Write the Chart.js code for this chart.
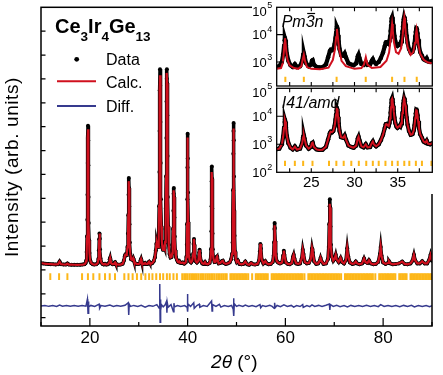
<!DOCTYPE html>
<html>
<head>
<meta charset="utf-8">
<script src="https://cdn.jsdelivr.net/npm/chart.js@4/dist/chart.umd.min.js"></script>
<style>
  body { margin: 0; background: #fff; }
  #wrap { position: relative; width: 443px; height: 375px; overflow: hidden; }
  canvas { position: absolute; }
  #cover { position: absolute; left: 252px; top: 0; width: 191px; height: 194px; background: #fff; }
</style>
</head>
<body>
<div id="wrap">
  <canvas id="main" width="443" height="375" style="left:0;top:0"></canvas>
  <div id="cover"></div>
  <canvas id="inset1" width="193" height="92" style="left:250px;top:0"></canvas>
  <canvas id="inset2" width="193" height="115" style="left:250px;top:80px"></canvas>
</div>
<script>
// measured pattern, [2theta, counts]
const obs = [
  [10.0, 950], [10.5, 880], [11.0, 820], [11.5, 770], [12.0, 730], [12.5, 700], [13.0, 690], [13.5, 740],
  [13.8, 1300], [14.1, 730], [14.6, 660], [15.1, 650], [15.4, 880], [15.7, 640], [16.2, 620], [16.8, 610],
  [17.4, 600], [18.0, 610], [18.5, 640], [18.9, 720], [19.1, 950], [19.25, 1500],
  [19.35, 3400], [19.43, 6800], [19.48, 10500], [19.52, 16000], [19.56, 23000], [19.59, 28500], [19.62, 31200],
  [19.65, 28000], [19.68, 22500], [19.72, 15500], [19.77, 9800], [19.83, 6000], [19.92, 3200], [20.05, 1600],
  [20.3, 950], [20.6, 720], [20.9, 660], [21.3, 700], [21.6, 1000], [21.75, 1900], [21.85, 3800], [21.92, 6200],
  [21.96, 7500], [22.0, 6400], [22.07, 4000], [22.17, 2000], [22.35, 1100], [22.6, 760], [22.85, 660], [23.1, 830],
  [23.35, 650], [23.7, 700], [23.95, 1100], [24.06, 1800], [24.14, 2100], [24.22, 1600], [24.4, 900], [24.7, 700],
  [24.95, 800], [25.08, 1100], [25.16, 1150], [25.3, 800], [25.6, 660], [25.9, 630], [26.3, 640], [26.7, 820],
  [26.95, 1500], [27.15, 2500], [27.25, 2800], [27.4, 2700], [27.55, 3000], [27.7, 4500], [27.8, 7500],
  [27.87, 11500], [27.92, 16000], [27.97, 19700], [28.01, 17500], [28.05, 13500], [28.1, 9500], [28.17, 5500],
  [28.27, 3000], [28.45, 1800], [28.7, 1700], [28.86, 2050], [29.0, 1500], [29.3, 900], [29.63, 800], [29.9, 760],
  [30.2, 900], [30.38, 1600], [30.47, 1860], [30.57, 1400], [30.8, 850], [31.05, 780], [31.3, 1000], [31.5, 780],
  [31.8, 800], [32.0, 1100], [32.12, 1260], [32.25, 1000], [32.5, 850], [32.8, 1000], [33.05, 1400], [33.3, 2200],
  [33.5, 3800], [33.62, 5200], [33.72, 5300], [33.82, 4800], [33.95, 4500], [34.05, 5800], [34.12, 8500],
  [34.18, 13500], [34.23, 21000], [34.27, 30000], [34.31, 39000], [34.35, 43600], [34.39, 40000], [34.43, 32000],
  [34.48, 23000], [34.54, 15000], [34.62, 9000], [34.72, 5800], [34.85, 4300], [34.97, 3900], [35.08, 4200],
  [35.2, 4600], [35.3, 4300], [35.4, 5600], [35.48, 8500], [35.55, 13000], [35.61, 20000], [35.66, 28500],
  [35.7, 36500], [35.73, 41500], [35.76, 43600], [35.8, 40500], [35.84, 33500], [35.89, 24500], [35.95, 15500],
  [36.03, 9000], [36.14, 5000], [36.3, 3000], [36.5, 2200], [36.7, 2300], [36.85, 3100], [36.95, 4800],
  [37.03, 8500], [37.09, 12500], [37.14, 16200], [37.18, 17500], [37.23, 15500], [37.29, 11000], [37.36, 6800],
  [37.46, 3800], [37.6, 2300], [37.8, 1700], [38.0, 1250], [38.2, 1150], [38.35, 1350], [38.5, 1050], [38.75, 1000],
  [39.0, 1100], [39.3, 850], [39.6, 1100], [39.75, 2300], [39.84, 5000], [39.9, 9500], [39.94, 15000], [39.97, 22000],
  [40.0, 29400], [40.03, 24000], [40.07, 16500], [40.12, 10000], [40.18, 5500], [40.28, 2800], [40.45, 1400],
  [40.7, 1100], [40.95, 1500], [41.15, 3000], [41.23, 5200], [41.3, 6300], [41.37, 5000], [41.47, 2600],
  [41.65, 1400], [41.9, 1100], [42.2, 1500], [42.38, 3300], [42.45, 3900], [42.52, 3200], [42.7, 1500],
  [43.0, 900], [43.3, 800], [43.55, 1200], [43.75, 800], [44.1, 720], [44.5, 1000], [44.7, 1800], [44.8, 4000],
  [44.86, 8000], [44.9, 13500], [44.93, 19000], [44.96, 22200], [44.99, 19500], [45.03, 13000], [45.08, 7500],
  [45.15, 4000], [45.28, 2000], [45.5, 1200], [45.75, 1300], [45.95, 2300], [46.02, 2400], [46.1, 1800],
  [46.35, 900], [46.7, 1000], [47.0, 1400], [47.2, 1500], [47.4, 1000], [47.8, 800], [48.2, 900], [48.6, 1100],
  [48.9, 1800], [49.1, 3000], [49.2, 5500], [49.26, 10000], [49.31, 17000], [49.35, 25000], [49.38, 30000],
  [49.41, 31800], [49.44, 28000], [49.48, 20000], [49.53, 12500], [49.6, 7000], [49.7, 3500], [49.85, 1800],
  [50.05, 1200], [50.3, 1500], [50.6, 800], [51.0, 700], [51.4, 800], [51.8, 1300], [52.2, 700], [52.6, 600],
  [53.0, 1000], [53.4, 700], [53.8, 650], [54.3, 800], [54.6, 1500], [54.78, 3500], [54.88, 5200], [54.98, 4200],
  [55.15, 1800], [55.5, 900], [55.9, 1400], [56.2, 900], [56.6, 700], [57.0, 800], [57.4, 1200], [57.6, 2600],
  [57.7, 5500], [57.76, 8500], [57.8, 9800], [57.85, 8700], [57.92, 5800], [58.02, 3000], [58.2, 1500],
  [58.5, 1100], [58.9, 900], [59.3, 1100], [59.55, 2600], [59.68, 3700], [59.8, 2800], [60.1, 1100], [60.5, 800],
  [60.9, 700], [61.3, 1000], [61.55, 2300], [61.7, 2800], [61.85, 2000], [62.2, 900], [62.6, 800], [63.0, 900],
  [63.35, 2000], [63.55, 3900], [63.7, 3000], [64.0, 1200], [64.4, 900], [64.8, 1000], [65.2, 1800], [65.45, 4200],
  [65.6, 3300], [65.9, 1300], [66.3, 800], [66.7, 900], [67.05, 1500], [67.2, 2100], [67.4, 1400], [67.8, 800],
  [68.3, 900], [68.7, 1800], [68.88, 4500], [68.98, 9500], [69.05, 13500], [69.1, 15000], [69.15, 13200],
  [69.22, 9000], [69.32, 5000], [69.5, 2500], [69.8, 1500], [70.1, 2000], [70.3, 2800], [70.5, 1800], [70.9, 1200],
  [71.3, 2100], [71.6, 1200], [72.0, 900], [72.4, 1600], [72.65, 4250], [72.85, 2500], [73.2, 1100], [73.7, 800],
  [74.1, 900], [74.4, 1300], [74.7, 900], [75.2, 700], [75.7, 900], [76.1, 2000], [76.4, 1200], [76.8, 1000],
  [77.1, 1600], [77.5, 900], [78.0, 700], [78.5, 800], [79.0, 1200], [79.35, 3000], [79.5, 4500], [79.68, 2600],
  [80.0, 1100], [80.5, 800], [81.0, 1000], [81.2, 1400], [81.5, 900], [82.0, 700], [82.6, 800], [83.2, 900],
  [83.9, 1300], [84.4, 800], [85.0, 700], [85.6, 900], [86.0, 1500], [86.3, 2800], [86.55, 1600], [87.0, 900],
  [87.5, 900], [88.0, 1400], [88.5, 900], [89.0, 900], [89.4, 1600], [89.7, 2800], [90.0, 1500]
];

// I41/amd fit: where calc sits below the measured peak tops
const calcFix = [
  [19.62, 30400], [27.97, 19000], [34.35, 42300], [35.76, 42800], [37.18, 17000],
  [40.0, 28600], [44.96, 21000], [49.41, 30600], [57.8, 9300], [69.1, 14000]
];

// Pm-3n fit, inset only
const pm3nCalc = [
  [21.0, 560], [21.5, 600], [21.7, 900], [21.82, 2200], [21.9, 4800], [21.96, 7400], [22.02, 5200], [22.1, 2600],
  [22.25, 1200], [22.5, 750], [23.0, 600], [23.5, 560], [23.85, 700], [24.0, 1200], [24.14, 1860], [24.27, 1100],
  [24.5, 650], [25.0, 560], [26.0, 540], [27.0, 620], [27.5, 1200], [27.75, 3000], [27.87, 8000], [27.97, 16200],
  [28.07, 8500], [28.2, 3200], [28.5, 1100], [29.0, 700], [30.0, 560], [30.8, 600], [31.1, 800], [31.31, 1500],
  [31.5, 800], [32.0, 600], [33.0, 650], [33.7, 1100], [34.0, 2200], [34.15, 5500], [34.27, 14000], [34.35, 24500],
  [34.43, 14000], [34.55, 5500], [34.8, 2300], [35.1, 2000], [35.4, 3200], [35.58, 10000], [35.68, 26000],
  [35.76, 41700], [35.84, 26000], [35.94, 10000], [36.15, 3500], [36.5, 1800], [36.8, 2300], [37.0, 5000],
  [37.1, 10000], [37.18, 15100], [37.26, 10000], [37.38, 4500], [37.6, 2000], [38.0, 1200], [38.5, 950], [39.0, 900]
];

// obs - calc residual
const diffRes = [
  [10.0, 0], [10.8, 120], [11.6, -90], [12.4, 80], [13.2, -100], [13.8, 180], [14.4, -80], [15.2, 100], [16.0, -90],
  [16.8, 90], [17.6, -80], [18.4, 100], [19.2, -60], [19.5, 1500], [19.57, -200], [19.62, -1600], [19.7, 1000],
  [19.8, -200], [20.2, 120], [21.0, -100], [21.9, 400], [22.0, -500], [22.3, 100], [23.1, -80], [24.1, 200],
  [24.8, -100], [25.5, 80], [26.3, -80], [27.2, 150], [27.85, 700], [27.95, -2000], [28.05, 400], [28.3, -100],
  [29.0, 120], [29.8, -90], [30.5, 150], [31.3, -250], [32.1, 100], [32.9, -80], [33.7, 300], [34.2, -500],
  [34.3, 4800], [34.37, -3600], [34.43, 1400], [34.52, -900], [34.65, 300], [35.0, -200], [35.4, 250], [35.68, 1000],
  [35.76, -1500], [35.84, 700], [36.0, -300], [36.6, 300], [37.1, -1300], [37.2, 600], [37.3, -200], [37.9, 100],
  [38.6, -100], [39.4, 80], [39.9, -300], [39.97, 2650], [40.03, -1250], [40.1, 400], [40.6, -100], [41.25, 700],
  [41.35, -500], [41.9, 100], [42.4, 400], [42.5, -300], [43.2, 90], [44.0, -100], [44.9, 1100], [45.0, -1100],
  [45.1, 300], [45.8, -100], [46.5, 350], [46.8, -250], [47.5, 100], [48.3, -120], [49.0, 100], [49.33, -700],
  [49.4, 1700], [49.47, -2200], [49.55, 500], [50.0, -100], [50.5, 150], [51.3, -100], [51.8, 200], [52.5, -120],
  [53.2, 100], [54.0, -150], [54.8, 300], [54.95, -400], [55.3, 100], [56.0, -120], [56.8, 150], [57.3, -100],
  [57.7, -500], [57.8, 700], [57.9, -400], [58.3, 100], [59.0, -150], [59.7, 250], [60.4, -100], [61.2, 120],
  [61.7, -250], [62.3, 100], [63.0, -120], [63.55, 300], [63.65, -300], [64.4, 100], [65.0, -150], [65.45, 250],
  [66.0, -100], [66.8, 120], [67.5, -100], [68.3, 150], [69.0, 400], [69.1, -900], [69.2, 300], [69.8, -100],
  [70.5, 150], [71.2, -150], [72.0, 100], [72.7, -200], [73.4, 120], [74.2, -100], [75.0, 100], [75.8, -120],
  [76.6, 150], [77.4, -100], [78.2, 100], [79.0, -150], [79.5, 300], [80.2, -100], [81.0, 120], [81.8, -100],
  [82.6, 100], [83.4, -150], [84.2, 120], [85.0, -100], [85.8, 150], [86.4, -200], [87.2, 100], [88.0, -120],
  [88.8, 100], [89.5, -150], [90.0, 50]
];

// Bragg positions
const i41Refl = [
  11.9, 13.7, 15.4, 18.4, 19.6, 20.7, 21.96, 23.1, 24.06, 25.14, 27.05, 27.9, 28.75, 29.63, 30.5, 31.36, 32.12,
  32.8, 33.58, 34.35, 35.0, 35.76, 36.34, 37.1, 37.8,
  38.9, 39.3, 39.65, 40.0, 40.4, 40.75, 41.1, 41.5, 41.85, 42.2, 42.6, 42.95, 43.3, 43.7, 44.05, 44.4, 44.8,
  45.15, 45.5, 45.9, 46.25, 46.6, 47.0, 47.35, 47.7, 48.0,
  48.75, 49.05, 49.35, 49.65, 49.95, 50.25, 50.55, 50.85, 51.15, 51.45, 51.75, 52.05, 52.4,
  53.2,
  53.95, 54.25, 54.55, 54.85, 55.15, 55.45, 55.75, 56.05, 56.4,
  57.2, 57.5, 57.8, 58.1, 58.4, 58.7, 59.0, 59.3, 59.6, 59.9, 60.2, 60.5, 60.8, 61.1, 61.4, 61.7, 62.0, 62.3,
  62.6, 62.9, 63.2, 63.5, 63.9,
  64.7, 65.0, 65.3, 65.6, 65.9, 66.2, 66.5, 66.8, 67.1, 67.4, 67.7, 68.0, 68.3, 68.6, 68.9, 69.2, 69.5, 69.8,
  70.1, 70.4, 70.7, 71.0, 71.4,
  72.2, 72.5, 72.8, 73.1, 73.4, 73.7, 74.0, 74.3, 74.6, 74.9, 75.2, 75.5, 75.8, 76.1, 76.4, 76.7, 77.0, 77.3,
  77.6, 77.9, 78.4,
  79.2, 79.5, 79.8, 80.1, 80.4, 80.7, 81.0, 81.3, 81.6, 81.9, 82.2, 82.5,
  83.3, 83.6, 83.9, 84.2, 84.5, 84.8,
  85.6, 85.9, 86.2, 86.5, 86.8, 87.1, 87.4, 87.7, 88.0, 88.3, 88.6, 88.9, 89.2, 89.5, 89.8
];
const pm3nRefl = [22.0, 24.14, 27.93, 31.3, 34.35, 35.78, 37.2];

// axes
const mainXTicks = [10, 20, 30, 40, 50, 60, 70, 80, 90];
const mainYTicks = [-11025, -5775, -525, 4725, 9975, 15225, 20475, 25725, 30975, 36225, 41475, 46725, 51975];
const insetXTicks = [22.5, 25, 27.5, 30, 32.5, 35, 37.5];
const diffShift = -8450;
const reflRowMain = -2000;
const reflRowInset1 = 230;
const reflRowInset2 = 210;

const fam = '"Liberation Sans", Arial, Helvetica, sans-serif';
const red = '#D0101E';
const blue = '#363A8E';
const orange = '#FDB719';

Chart.defaults.font.family = fam;
Chart.defaults.color = '#000';

const obsPts = obs.map(p => ({ x: p[0], y: p[1] }));
const calcPts = obs.map(p => {
  const f = calcFix.find(c => c[0] === p[0]);
  return { x: p[0], y: f ? f[1] : p[1] };
});
const pm3nPts = pm3nCalc.map(p => ({ x: p[0], y: p[1] }));
const diffPts = diffRes.map(p => ({ x: p[0], y: p[1] + diffShift }));

function drawParts(ctx, parts, x, base) {
  parts.forEach(p => {
    ctx.font = p.font;
    const y = base + (p.dy || 0);
    ctx.fillText(p.t, x, y);
    const w = ctx.measureText(p.t).width;
    if (p.bar) {
      ctx.save();
      ctx.lineWidth = 1.2;
      ctx.beginPath();
      ctx.moveTo(x + 1.5, y - 13.2);
      ctx.lineTo(x + w + 0.5, y - 13.2);
      ctx.stroke();
      ctx.restore();
    }
    x += w;
  });
}

const mainDecor = {
  id: 'mainDecor',
  afterDraw(chart) {
    const { ctx, chartArea: a, scales: { x, y } } = chart;
    ctx.save();
    ctx.strokeStyle = '#000';
    ctx.lineWidth = 1.5;
    ctx.strokeRect(a.left, a.top, a.right - a.left, a.bottom - a.top);
    ctx.lineWidth = 1.2;
    ctx.beginPath();
    mainXTicks.forEach(v => {
      const px = x.getPixelForValue(v);
      const len = v % 20 === 0 ? 8 : 4;
      ctx.moveTo(px, a.bottom);
      ctx.lineTo(px, a.bottom - len);
    });
    mainYTicks.forEach(v => {
      const py = y.getPixelForValue(v);
      ctx.moveTo(a.left, py);
      ctx.lineTo(a.left + 4.5, py);
    });
    ctx.stroke();

    // legend
    ctx.fillStyle = '#000';
    ctx.beginPath();
    ctx.arc(76.7, 59.3, 2.4, 0, Math.PI * 2);
    ctx.fill();
    ctx.lineWidth = 2;
    ctx.strokeStyle = red;
    ctx.beginPath(); ctx.moveTo(57, 81.3); ctx.lineTo(96, 81.3); ctx.stroke();
    ctx.strokeStyle = blue;
    ctx.beginPath(); ctx.moveTo(57, 106); ctx.lineTo(96, 106); ctx.stroke();
    ctx.font = '16px ' + fam;
    ctx.textAlign = 'left';
    ctx.textBaseline = 'alphabetic';
    ctx.fillText('Data', 106, 65);
    ctx.fillText('Calc.', 106, 88.4);
    ctx.fillText('Diff.', 106, 111.8);

    // compound name
    const big = 'bold 20px ' + fam, sub = 'bold 13.5px ' + fam;
    drawParts(ctx, [
      { t: 'Ce', font: big }, { t: '3', font: sub, dy: 7.4 },
      { t: 'Ir', font: big }, { t: '4', font: sub, dy: 7.4 },
      { t: 'Ge', font: big }, { t: '13', font: sub, dy: 7.4 }
    ], 55, 33.3);

    // x title
    ctx.font = 'italic 19px ' + fam;
    const w1 = ctx.measureText('2θ').width;
    ctx.font = '19px ' + fam;
    const w2 = ctx.measureText(' (°)').width;
    const x0 = 234.3 - (w1 + w2) / 2;
    drawParts(ctx, [{ t: '2θ', font: 'italic 19px ' + fam }, { t: ' (°)', font: '19px ' + fam }], x0, 367.5);

    // y title
    ctx.translate(18, 167);
    ctx.rotate(-Math.PI / 2);
    ctx.font = '19px ' + fam;
    ctx.letterSpacing = '0.6px';
    ctx.textAlign = 'center';
    ctx.fillText('Intensity (arb. units)', 0, 0);
    ctx.restore();
  }
};

new Chart(document.getElementById('main'), {
  type: 'scatter',
  data: {
    datasets: [
      { label: 'Calc.', data: calcPts, showLine: true, borderColor: red, borderWidth: 2.2, pointRadius: 0, order: 1 },
      { label: 'Data', data: obsPts, showLine: true, borderColor: '#000', borderWidth: 3.5,
        pointRadius: 2, pointBorderWidth: 0, pointBackgroundColor: '#000', order: 2 },
      { label: 'Diff.', data: diffPts, showLine: true, borderColor: blue, borderWidth: 1.5, pointRadius: 0, order: 3 },
      { label: 'Bragg', data: i41Refl.map(v => ({ x: v, y: reflRowMain })), pointStyle: 'line', pointRotation: 90,
        rotation: 90, pointRadius: 3.4, pointBorderWidth: 2, pointBorderColor: orange, borderColor: orange, order: 4 }
    ]
  },
  options: {
    responsive: false,
    animation: false,
    devicePixelRatio: 1,
    events: [],
    layout: { padding: { top: 7.3, right: 11, left: 0, bottom: 0 } },
    plugins: { legend: { display: false }, tooltip: { enabled: false } },
    scales: {
      x: {
        type: 'linear', min: 10, max: 90,
        grid: { display: false, drawTicks: false },
        border: { display: false },
        ticks: { stepSize: 10, autoSkip: false, maxRotation: 0, padding: 2, font: { size: 17 },
          callback: v => (v % 20 === 0 ? String(v) : '') },
        afterFit: s => { s.height = 49; }
      },
      y: {
        min: -12860, max: 57230,
        grid: { display: false, drawTicks: false },
        border: { display: false },
        ticks: { display: false },
        afterFit: s => { s.width = 41; }
      }
    }
  },
  plugins: [mainDecor]
});

function insetDecor(titleParts, decades) {
  return {
    id: 'insetDecor',
    afterDraw(chart) {
      const { ctx, chartArea: a, scales: { x, y } } = chart;
      ctx.save();
      ctx.strokeStyle = '#000';
      ctx.lineWidth = 1.3;
      ctx.strokeRect(a.left, a.top, a.right - a.left, a.bottom - a.top);
      ctx.lineWidth = 1.1;
      ctx.beginPath();
      insetXTicks.forEach(v => {
        const px = x.getPixelForValue(v);
        ctx.moveTo(px, a.top); ctx.lineTo(px, a.top + 4);
        ctx.moveTo(px, a.bottom); ctx.lineTo(px, a.bottom - 4);
      });
      decades.forEach(d => {
        const py = y.getPixelForValue(Math.pow(10, d));
        if (py > a.top + 1 && py < a.bottom - 1) { ctx.moveTo(a.left, py); ctx.lineTo(a.left + 7, py); }
      });
      ctx.stroke();
      ctx.fillStyle = '#000';
      decades.forEach(d => {
        let py = y.getPixelForValue(Math.pow(10, d));
        if (py < a.top + 3) py = a.top + 3.5;
        ctx.textBaseline = 'alphabetic';
        ctx.font = '13px ' + fam;
        ctx.textAlign = 'right';
        ctx.fillText('10', a.left - 10, py + 4.7);
        ctx.font = '9px ' + fam;
        ctx.textAlign = 'left';
        ctx.fillText(String(d), a.left - 9.4, py - 2.4);
      });
      ctx.textAlign = 'left';
      drawParts(ctx, titleParts, a.left + 5, a.top + 19.4);
      ctx.restore();
    }
  };
}

function insetChart(id, calc, refl, row, yMin, decades, title, showX, pad, xHeight) {
  return new Chart(document.getElementById(id), {
    type: 'scatter',
    data: {
      datasets: [
        { data: calc, showLine: true, borderColor: red, borderWidth: 2, pointRadius: 0, clip: 0, order: 1 },
        { data: obsPts, showLine: true, borderColor: '#000', borderWidth: 4.2, pointRadius: 2.2, pointBorderWidth: 0,
          pointBackgroundColor: '#000', clip: 0, order: 2 },
        { data: refl.map(v => ({ x: v, y: row })), pointStyle: 'line', pointRotation: 90, rotation: 90,
          pointRadius: 2.6, pointBorderWidth: 2, pointBorderColor: orange, borderColor: orange, clip: 0, order: 3 }
      ]
    },
    options: {
      responsive: false,
      animation: false,
      devicePixelRatio: 1,
      events: [],
      layout: { padding: { top: pad, right: 10.7, left: 0, bottom: 0 } },
      plugins: { legend: { display: false }, tooltip: { enabled: false } },
      scales: {
        x: {
          type: 'linear', min: 21, max: 39,
          grid: { display: false, drawTicks: false },
          border: { display: false },
          ticks: { display: showX, stepSize: 2.5, autoSkip: false, maxRotation: 0, padding: 2, font: { size: 15 },
            callback: v => (v % 5 === 0 ? String(v) : '') },
          afterFit: s => { s.height = xHeight; }
        },
        y: {
          type: 'logarithmic', min: yMin, max: 100000,
          grid: { display: false, drawTicks: false },
          border: { display: false },
          ticks: { display: false },
          afterFit: s => { s.width = 26.7; }
        }
      }
    },
    plugins: [insetDecor(title, decades)]
  });
}

const it = 'italic 16px ' + fam;
insetChart('inset1', pm3nPts, pm3nRefl, reflRowInset1, 131.8, [3, 4, 5],
  [{ t: 'Pm', font: it }, { t: '3', font: it, bar: true }, { t: 'n', font: it }], false, 7.3, 3.7);
insetChart('inset2', calcPts, i41Refl, reflRowInset2, 100, [2, 3, 4, 5],
  [{ t: 'I41/amd', font: it }], true, 8.3, 22.7);
</script>
</body>
</html>
